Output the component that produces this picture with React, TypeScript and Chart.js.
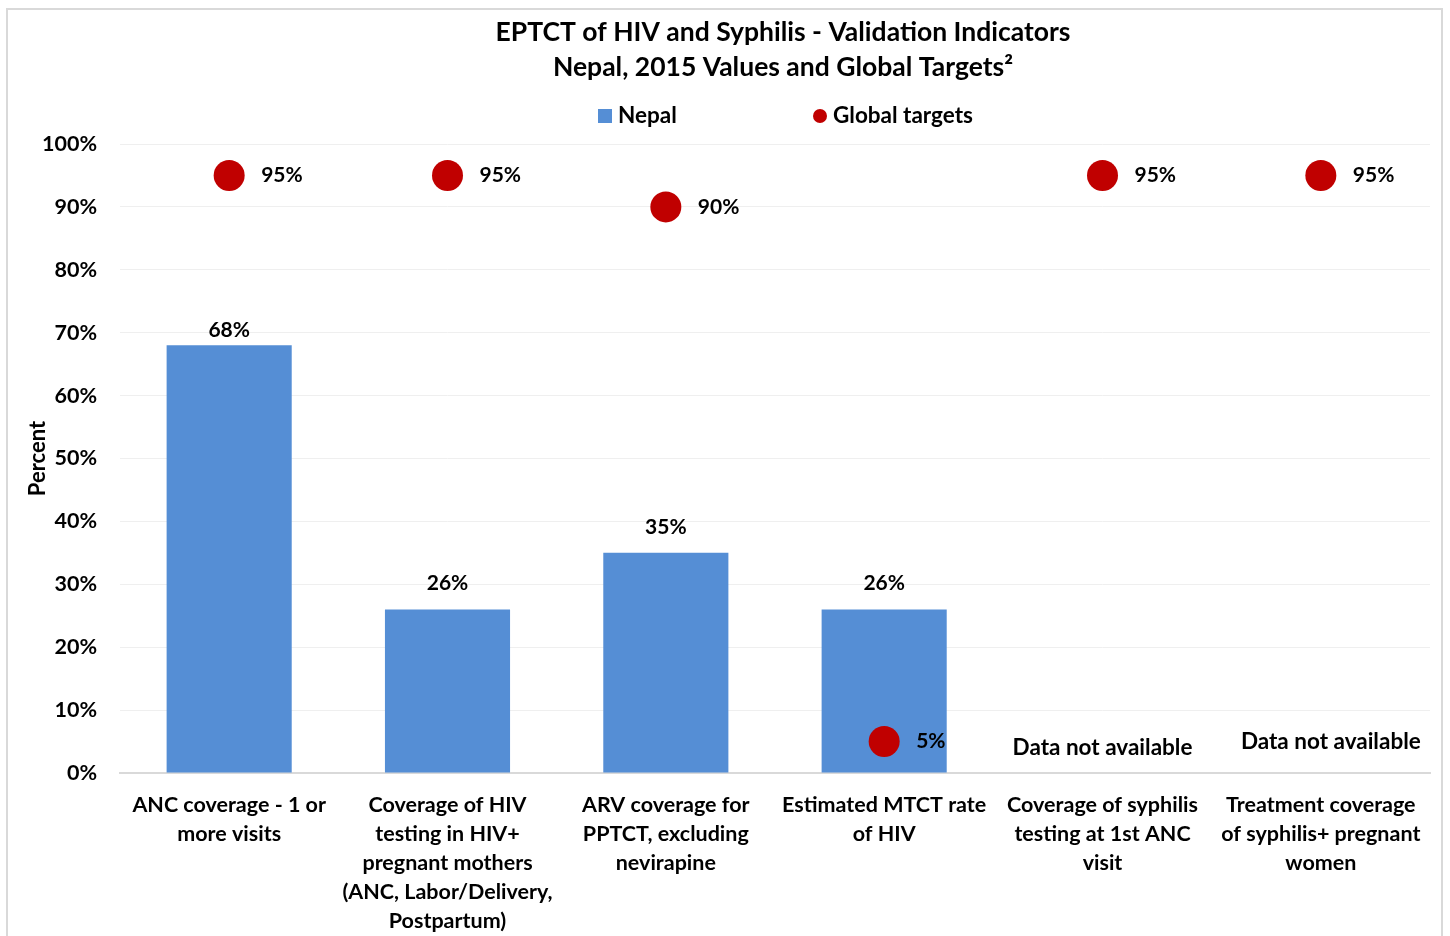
import React, { useEffect, useRef } from 'react';
import { Chart, registerables } from 'chart.js';

Chart.register(...registerables);

const FONT = 'Lato, "Open Sans", sans-serif';

const categories: string[][] = [
  ['ANC coverage - 1 or', 'more visits'],
  ['Coverage of HIV', 'testing in HIV+', 'pregnant mothers', '(ANC, Labor/Delivery,', 'Postpartum)'],
  ['ARV coverage for', 'PPTCT, excluding', 'nevirapine'],
  ['Estimated MTCT rate', 'of HIV'],
  ['Coverage of syphilis', 'testing at 1st ANC', 'visit'],
  ['Treatment coverage', 'of syphilis+ pregnant', 'women'],
];
const nepalValues: (number | null)[] = [68, 26, 35, 26, null, null];
const targetValues: number[] = [95, 95, 90, 5, 95, 95];
const notAvailableText: (string | null)[] = [null, null, null, null, 'Data not available', 'Data not available'];
const notAvailableLevel: (number | null)[] = [null, null, null, null, 4, 5];
const titleLines = ['EPTCT of HIV and Syphilis - Validation Indicators', 'Nepal, 2015 Values and Global Targets\u00B2'];
const legendLabels = ['Nepal', 'Global targets'];
const yAxisTitle = 'Percent';

const BLUE = '#558ED5';
const RED = '#C00000';

const annotate = {
  id: 'annotate',
  afterDatasetsDraw(chart: any) {
    const ctx = chart.ctx as CanvasRenderingContext2D;
    const xs = chart.scales.x;
    const ys = chart.scales.y;
    ctx.save();
    ctx.fillStyle = '#000';
    ctx.textBaseline = 'middle';
    ctx.font = `bold 21px ${FONT}`;
    // bar value labels
    const barMeta = chart.getDatasetMeta(1);
    nepalValues.forEach((v, i) => {
      if (v == null) return;
      const el = barMeta.data[i];
      ctx.textAlign = 'center';
      const off = v > 60 ? 15 : 26;
      ctx.fillText(`${v}%`, el.x, el.y - off);
    });
    // target labels
    const ptMeta = chart.getDatasetMeta(0);
    targetValues.forEach((v, i) => {
      const el = ptMeta.data[i];
      ctx.textAlign = 'left';
      ctx.fillText(`${v}%`, el.x + 32, el.y);
    });
    // data not available
    ctx.font = `bold 22.5px ${FONT}`;
    notAvailableText.forEach((t, i) => {
      if (!t) return;
      const lv = notAvailableLevel[i] as number;
      ctx.textAlign = 'center';
      ctx.fillText(t, xs.getPixelForValue(i) + (i === 5 ? 10 : 0), ys.getPixelForValue(lv));
    });
    ctx.restore();
  },
  afterDraw(chart: any) {
    const ctx = chart.ctx as CanvasRenderingContext2D;
    const area = chart.chartArea;
    const cx = (area.left + area.right) / 2 + 8;
    ctx.save();
    ctx.fillStyle = '#000';
    ctx.textBaseline = 'middle';
    ctx.textAlign = 'center';
    ctx.font = `bold 26.5px ${FONT}`;
    ctx.fillText(titleLines[0], cx, 22);
    ctx.fillText(titleLines[1], cx, 57);
    // legend
    const ly = 106;
    ctx.fillStyle = BLUE;
    ctx.fillRect(cx - 185, ly - 7, 14, 14);
    ctx.fillStyle = '#000';
    ctx.font = `bold 22.5px ${FONT}`;
    ctx.textAlign = 'left';
    ctx.fillText(legendLabels[0], cx - 165, ly);
    ctx.fillStyle = RED;
    ctx.beginPath();
    ctx.arc(cx + 37, ly, 7, 0, Math.PI * 2);
    ctx.fill();
    ctx.fillStyle = '#000';
    ctx.fillText(legendLabels[1], cx + 50, ly);
    ctx.restore();
  },
};

export default function App() {
  const ref = useRef<HTMLCanvasElement | null>(null);
  useEffect(() => {
    if (!ref.current) return;
    Chart.defaults.font.family = FONT;
    const chart = new Chart(ref.current, {
      type: 'bar',
      data: {
        labels: categories,
        datasets: [
          {
            type: 'line',
            label: legendLabels[1],
            data: targetValues,
            showLine: false,
            pointRadius: 15.5,
            pointHoverRadius: 15.5,
            pointBackgroundColor: RED,
            pointBorderWidth: 0,
            borderColor: RED,
            backgroundColor: RED,
            order: 0,
          } as any,
          {
            type: 'bar',
            label: legendLabels[0],
            data: nepalValues,
            backgroundColor: BLUE,
            categoryPercentage: 1,
            barPercentage: 0.573,
            order: 1,
          },
        ],
      },
      options: {
        responsive: false,
        animation: false,
        layout: { autoPadding: false, padding: { top: 134, right: 11, left: 0, bottom: 0 } },
        plugins: {
          legend: { display: false },
          title: { display: false },
          tooltip: { enabled: false },
        },
        scales: {
          x: {
            grid: { display: false, drawTicks: false },
            border: { color: '#D9D9D9', width: 2 },
            ticks: {
              color: '#000',
              font: { size: 21.5, weight: 'bold', lineHeight: '29px' },
              padding: 18,
              maxRotation: 0,
              autoSkip: false,
            },
            afterFit: (s: any) => {
              s.height = 163;
              s.paddingLeft = 0;
              s.paddingRight = 0;
            },
          },
          y: {
            min: 0,
            max: 100,
            grid: { color: '#EFEFEF', lineWidth: 1, drawTicks: false },
            border: { display: false },
            ticks: {
              stepSize: 10,
              color: '#000',
              font: { size: 21.5, weight: 'bold' },
              padding: 23,
              callback: (v: any) => `${v}%`,
            },
            title: {
              display: true,
              text: yAxisTitle,
              color: '#000',
              font: { size: 22, weight: 'bold' },
              padding: { top: 17, bottom: 0 },
            },
            afterFit: (s: any) => {
              s.width = 112;
              s.paddingTop = 0;
              s.paddingBottom = 0;
            },
          },
        },
      },
      plugins: [annotate],
    });
    return () => chart.destroy();
  }, []);
  return (
    <div
      style={{
        position: 'absolute',
        left: 6,
        top: 8,
        width: 1437,
        height: 928,
        borderTop: '2px solid #D9D9D9',
        borderLeft: '2px solid #D9D9D9',
        borderRight: '2px solid #D9D9D9',
        boxSizing: 'border-box',
        background: '#fff',
        overflow: 'hidden',
      }}
    >
      <canvas ref={ref} width={1433} height={926} style={{ display: 'block' }} />
    </div>
  );
}
